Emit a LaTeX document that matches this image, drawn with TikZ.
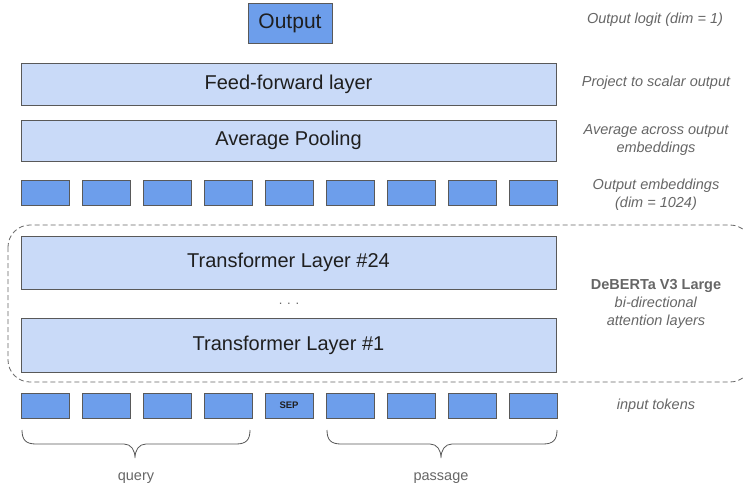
\documentclass[tikz,border=0pt]{standalone}
\usepackage{fontspec}
\setmainfont{Liberation Sans}
\usetikzlibrary{calc}
\definecolor{tokfill}{HTML}{6D9EEB}
\definecolor{layfill}{HTML}{C9DAF8}
\definecolor{edge}{HTML}{595959}
\definecolor{notegray}{HTML}{666666}
\definecolor{ink}{HTML}{1F1F1F}
\tikzset{
  tok/.style={draw=edge, line width=0.8pt, fill=tokfill, minimum width=48pt, minimum height=25pt, inner sep=0pt},
  layer/.style={draw=edge, line width=0.8pt, fill=layfill, minimum width=535pt, inner sep=0pt, text=ink, font=\fontsize{20}{24}\selectfont},
  note/.style={text=notegray, font=\itshape\fontsize{14.5}{18}\selectfont, align=center},
  under/.style={text=notegray, font=\fontsize{14.5}{18}\selectfont},
  brace/.style={draw=edge, line width=0.8pt}
}
\begin{document}
\begin{tikzpicture}[x=1pt, y=-1pt]
\useasboundingbox (0,0) rectangle (743,489);

% head of the model
\node[tok, minimum width=84pt, minimum height=40pt, text=ink, font=\fontsize{21}{24}\selectfont] (out) at (290,23) {Output};
\node[layer, minimum height=42pt] (ff) at (288.5,84) {Feed-forward layer};
\node[layer, minimum height=41pt] (pool) at (288.5,140.5) {Average Pooling};

% output embeddings
\foreach \i in {0,...,8} {
  \node[tok] (e\i) at ({45+61*\i},193) {};
}

% encoder stack
\draw[draw=notegray, line width=0.8pt, dash pattern=on 5pt off 3pt, rounded corners=22pt] (8,225) rectangle (752,382);
\node[layer, minimum height=53pt] (t24) at (288.5,262.5) {Transformer Layer \#24};
\node[text=notegray, font=\fontsize{13}{15}\selectfont] (dots) at (289,304) {. . .};
\node[layer, minimum height=54pt] (t1) at (288.5,345) {Transformer Layer \#1};

% input tokens
\foreach \i in {0,...,8} {
  \node[tok] (x\i) at ({45+61*\i},405.5) {};
}
\node[text=ink, font=\bfseries\fontsize{9.5}{11}\selectfont] (sep) at (x4) {SEP};

% braces under the query and passage tokens
\draw[brace] (22,430) .. controls (22,440) and (26,444) .. (36,444)
  -- (124,444) .. controls (131,444) and (135,450) .. (135,458)
  .. controls (135,450) and (139,444) .. (146,444)
  -- (236,444) .. controls (246,444) and (250,440) .. (250,430);
\draw[brace] (327,430) .. controls (327,440) and (331,444) .. (341,444)
  -- (430,444) .. controls (437,444) and (441,450) .. (441,458)
  .. controls (441,450) and (445,444) .. (452,444)
  -- (543,444) .. controls (553,444) and (557,440) .. (557,430);
\node[under] (query) at (136,478) {query};
\node[under] (passage) at (441,478) {passage};

% annotations on the right
\node[note] (n1) at (655,20) {Output logit (dim = 1)};
\node[note] (n2) at (656,83) {Project to scalar output};
\node[note] (n3) at (656,140) {Average across output\\embeddings};
\node[note] (n4) at (656,195) {Output embeddings\\(dim = 1024)};
\node[text=notegray, align=center, font=\fontsize{14.5}{18}\selectfont] (n5) at (656,304) {\textbf{DeBERTa V3 Large}\\\textit{bi-directional}\\\textit{attention layers}};
\node[note] (n6) at (656,406) {input tokens};
\end{tikzpicture}
\end{document}
